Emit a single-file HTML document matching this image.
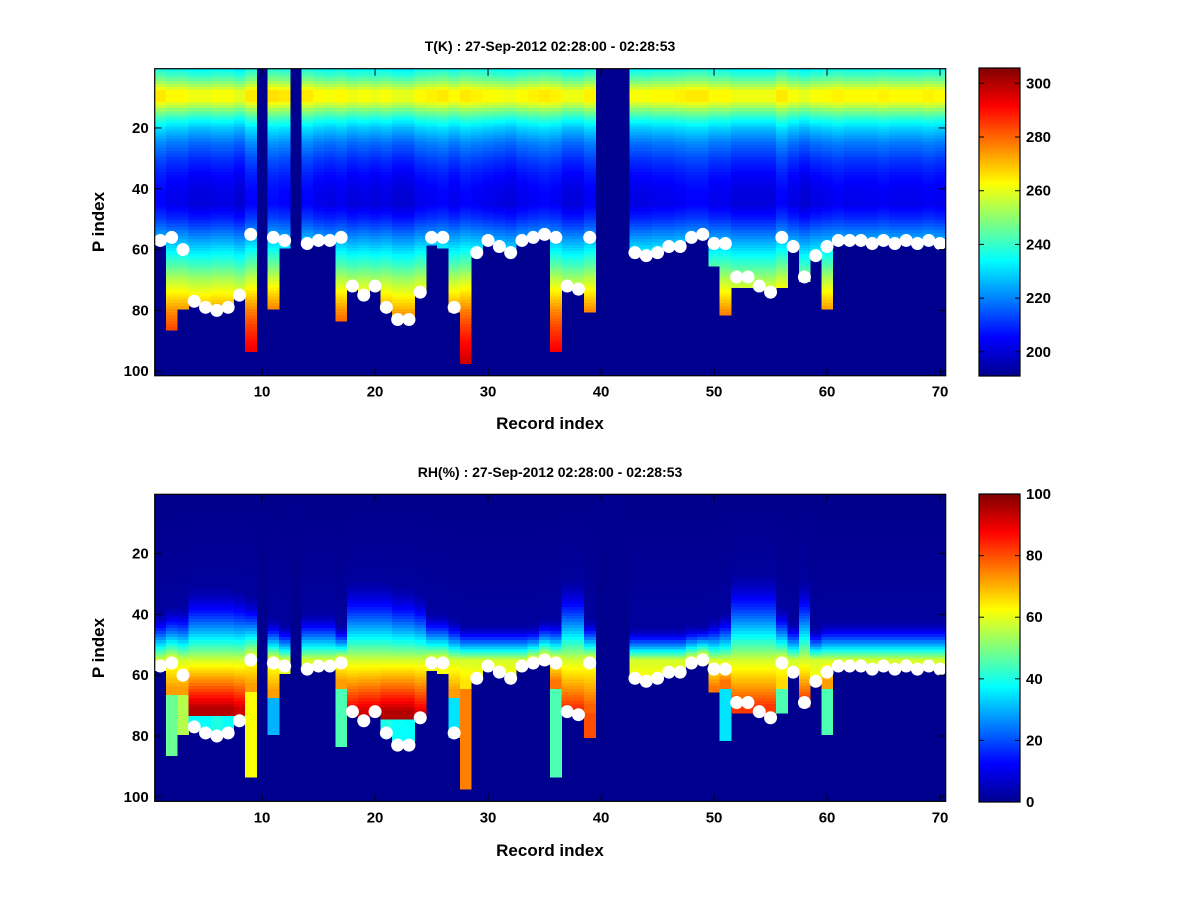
<!DOCTYPE html>
<html><head><meta charset="utf-8">
<style>
body{margin:0;background:#fff;}
svg{display:block;font-family:"Liberation Sans",Arial,sans-serif;}
.tk{font-size:15px;font-weight:bold;fill:#000;}
.ttl{font-size:14px;font-weight:bold;fill:#000;}
.lbl{font-size:17px;font-weight:bold;fill:#000;}
</style></head>
<body>
<svg id="fig" width="1200" height="900" viewBox="0 0 1200 900">
<rect x="0" y="0" width="1200" height="900" fill="#fff"/>
<text class="ttl" x="550" y="51" text-anchor="middle">T(K) : 27-Sep-2012 02:28:00 - 02:28:53</text>
<text class="ttl" x="550" y="477" text-anchor="middle">RH(%) : 27-Sep-2012 02:28:00 - 02:28:53</text>
<text class="lbl" x="550" y="429" text-anchor="middle">Record index</text>
<text class="lbl" x="550" y="856" text-anchor="middle">Record index</text>
<text class="lbl" x="0" y="0" text-anchor="middle" transform="translate(104,222) rotate(-90)">P index</text>
<text class="lbl" x="0" y="0" text-anchor="middle" transform="translate(104,648) rotate(-90)">P index</text>
<defs>
<linearGradient id="jet" x1="0" y1="1" x2="0" y2="0">
<stop offset="0" stop-color="#00008f"/><stop offset="0.125" stop-color="#0000ff"/>
<stop offset="0.375" stop-color="#00ffff"/><stop offset="0.625" stop-color="#ffff00"/>
<stop offset="0.875" stop-color="#ff0000"/><stop offset="1" stop-color="#800000"/>
</linearGradient>
</defs>
<g id="topMap"></g>
<g id="botMap"></g>
<g id="axes"></g>
</svg>
<script>
// ---- data ----
const records = Array.from({length:70},(_,i)=>i+1);
const missing = [10,13,40,41,42];
// P index of white surface dot per record (null = none)
const dotP = [57,56,60,77,79,80,79,75,55,null,56,57,null,58,57,57,56,72,75,72,79,83,83,74,56,56,79,null,61,57,59,61,57,56,55,56,72,73,56,null,null,null,61,62,61,59,59,56,55,58,58,69,69,72,74,56,59,69,62,59,57,57,57,58,57,58,57,58,57,58];
// lowest P index with data per record
const bottomP = [58,86,79,77,79,80,79,75,93,0,79,59,0,58,57,57,83,72,75,72,79,83,83,74,58,59,80,97,61,57,59,61,57,56,55,93,72,73,80,0,0,0,61,62,61,59,59,56,55,65,81,72,72,72,74,72,59,70,62,79,57,57,57,58,57,58,57,58,57,58];
// temperature profile (K) at P levels
const profP = [1,4,8,11,14,17,20,25,30,35,40,45,50,55,60,65,70,75,80,85,90,95,101];
const profT = [236,246,263,263,250,238,229,219,212,207,204,203,210,221,232,243,255,265,275,282,288,293,298];
// per-record temperature offset (K)
const tOff = [2,0,0,-2,-2,-1,-1,-3,2,0,3,2,0,2,0,-1,0,-2,-1,-2,-1,-3,-3,0,1,2,0,2,1,0,-1,-2,0,1,2,1,-2,-2,1,0,0,0,-1,-1,0,0,1,2,2,0,0,-2,-2,-2,-2,2,-1,-3,-1,0,1,0,0,0,1,0,0,0,1,0];
// RH: top of moist layer, peak value & P, value below peak
const rhTop = [40,38,38,32,32,32,32,33,35,0,42,44,0,40,40,40,44,30,30,30,30,32,32,34,40,40,42,44,44,44,44,44,44,44,42,42,30,30,42,0,0,0,45,45,45,45,45,44,44,42,40,28,28,28,28,38,43,30,45,43,43,43,43,43,43,43,43,43,43,43];
const rhPeak = [62,72,72,95,95,95,95,92,72,0,72,60,0,60,60,60,72,90,92,92,95,95,95,90,62,62,72,65,62,62,62,62,62,62,62,76,85,85,78,0,0,0,62,62,62,62,62,62,62,76,76,82,82,82,82,66,62,82,62,72,60,60,60,60,60,60,60,60,60,60];
const rhPeakP = [58,64,64,71,71,71,71,71,63,0,65,58,0,58,58,58,62,72,72,72,72,72,72,72,58,58,65,62,60,58,58,60,58,58,58,62,72,72,70,0,0,0,60,60,60,60,60,58,58,64,62,70,70,70,70,62,60,68,61,62,57,57,57,58,57,58,57,58,57,58];
const rhBelow = [60,48,55,38,38,40,38,40,62,0,30,58,0,58,58,58,45,40,40,40,40,38,38,40,58,58,35,75,60,58,58,60,58,58,58,45,45,45,80,0,0,0,60,60,60,60,60,58,58,72,35,75,75,75,75,45,60,60,60,45,58,58,58,58,58,58,58,58,58,58];
const xTicks = [10,20,30,40,50,60,70];
const yTicks = [20,40,60,80,100];
const tCbTicks = [200,220,240,260,280,300];
const rhCbTicks = [0,20,40,60,80,100];

// ---- scales ----
const NS='http://www.w3.org/2000/svg';
const X0=154.7, DX=11.3, DY=3.04, NP=101;
const xS = r => X0+(r-0.5)*DX;
const topY0=68.7, botY0=494.3;
const yS = (p,y0) => y0+(p-0.5)*DY;
const T_MIN=191, T_MAX=305.7, RH_MIN=0, RH_MAX=100;
function jet(v){v=Math.max(0,Math.min(1,v));
 const c=t=>Math.round(255*Math.max(0,Math.min(1,1.5-Math.abs(t))));
 return `rgb(${c(4*v-3)},${c(4*v-2)},${c(4*v-1)})`;}
function interp(xs,ys,x){for(let i=1;i<xs.length;i++){if(x<=xs[i]){const t=(x-xs[i-1])/(xs[i]-xs[i-1]);return ys[i-1]+t*(ys[i]-ys[i-1]);}}return ys[ys.length-1];}
function tempAt(i,p){return interp(profP,profT,p)+tOff[i];}
function rhAt(i,p){
 const top=rhTop[i], pk=rhPeak[i], pp=rhPeakP[i], d=dotP[i]||pp;
 if(p<top) return 1+2*p/top;
 const mid=Math.max(top+4,Math.min(d-2,pp,55));
 if(p<=mid){const f=(p-top)/Math.max(1,mid-top);return 4+(58-4)*Math.pow(f,1.4);}
 if(p<=pp) return 58+(pk-58)*(p-mid)/Math.max(1,pp-mid);
 if(p<=pp+2) return pk;
 return rhBelow[i];
}
function mk(tag,attrs,parent){const e=document.createElementNS(NS,tag);for(const k in attrs)e.setAttribute(k,attrs[k]);parent.appendChild(e);return e;}

function drawMap(gid,y0,valFn,vmin,vmax,kind){
 const g=document.getElementById(gid);
 const bg=mk('rect',{x:X0,y:y0,width:70*DX,height:NP*DY,fill:'#00008f'},g);
 
 
 records.forEach((r,i)=>{
  if(missing.includes(r)) return;
  for(let p=1;p<=bottomP[i];p++){
   const v=valFn(i,p);
   const c=mk('rect',{x:xS(r)-DX/2,y:yS(p,y0)-DY/2,width:DX+0.4,height:DY+0.4,fill:jet((v-vmin)/(vmax-vmin)),'shape-rendering':'crispEdges'},g);
   
   
  }
 });
 records.forEach((r,i)=>{
  if(dotP[i]==null) return;
  const d=mk('circle',{cx:xS(r),cy:yS(dotP[i],y0),r:6.5,fill:'#fff'},g);
  
  
 });
}
drawMap('topMap',topY0,tempAt,T_MIN,T_MAX,'temperature');
drawMap('botMap',botY0,rhAt,RH_MIN,RH_MAX,'humidity');

const ax=document.getElementById('axes');
function axesBox(y0,kind){
 const H=NP*DY, W=70*DX;
 const b=mk('rect',{x:X0,y:y0,width:W,height:H,fill:'none',stroke:'#000','stroke-width':1.2},ax);
 
 
 xTicks.forEach(t=>{
  const x=xS(t);
  mk('line',{x1:x,y1:y0+H,x2:x,y2:y0+H-7,stroke:'#000'},ax);
  mk('line',{x1:x,y1:y0,x2:x,y2:y0+7,stroke:'#000'},ax);
  const tx=mk('text',{x:x,y:y0+H+21,'text-anchor':'middle',class:'tk'},ax);
  tx.textContent=t;
  
  
 });
 yTicks.forEach(t=>{
  const y=yS(t,y0);
  mk('line',{x1:X0,y1:y,x2:X0+7,y2:y,stroke:'#000'},ax);
  mk('line',{x1:X0+W,y1:y,x2:X0+W-7,y2:y,stroke:'#000'},ax);
  const tx=mk('text',{x:X0-6,y:y+5,'text-anchor':'end',class:'tk'},ax);
  tx.textContent=t;
  
  
 });
}
axesBox(topY0,'temperature');
axesBox(botY0,'humidity');

function colorbar(y0,vmin,vmax,ticks,kind){
 const CX=979,CW=41,CH=308;
 const r=mk('rect',{x:CX,y:y0,width:CW,height:CH,fill:'url(#jet)',stroke:'#000','stroke-width':1.2},ax);
 
 
 ticks.forEach(t=>{
  const y=y0+CH-(t-vmin)/(vmax-vmin)*CH;
  mk('line',{x1:CX,y1:y,x2:CX+5,y2:y,stroke:'#000'},ax);
  mk('line',{x1:CX+CW,y1:y,x2:CX+CW-5,y2:y,stroke:'#000'},ax);
  const tx=mk('text',{x:CX+CW+6,y:y+5,class:'tk'},ax);
  tx.textContent=t;
  
  
 });
}
colorbar(68,T_MIN,T_MAX,tCbTicks,'temperature');
colorbar(494,RH_MIN,RH_MAX,rhCbTicks,'humidity');
</script>
</body></html>
